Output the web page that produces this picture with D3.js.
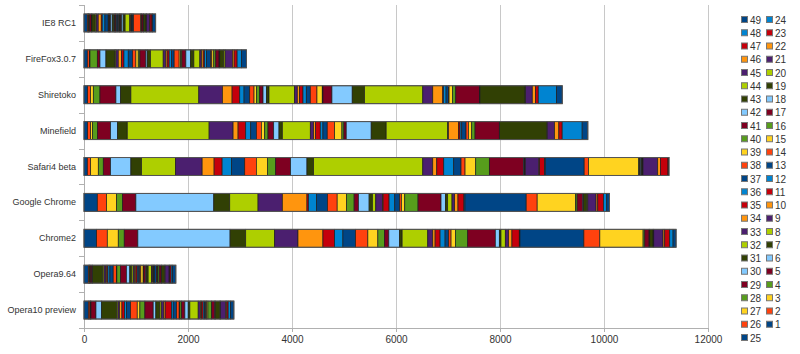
<!DOCTYPE html>
<html>
<head>
<meta charset="utf-8">
<script src="https://cdn.jsdelivr.net/npm/d3@7"></script>
<style>
html, body { margin: 0; padding: 0; background: #fff; }
svg { display: block; }
text { font-family: "Liberation Sans", Arial, sans-serif; }
</style>
</head>
<body>
<svg id="chart" width="800" height="354"></svg>
<script>
// ---- data ----
const categories = ["IE8 RC1", "FireFox3.0.7", "Shiretoko", "Minefield", "Safari4 beta",
  "Google Chrome", "Chrome2", "Opera9.64", "Opera10 preview"];

const seriesNames = d3.range(1, 50).map(String); // "1" .. "49"

const xTicks = [0, 2000, 4000, 6000, 8000, 10000, 12000];

// values of series 1..49 for each browser
const ie8 = [64,19,6,13,38,13,64,19,38,58,19,51,64,13,6,6,19,32,32,13,13,6,19,19,26,13,6,13,19,32,38,90,13,13,13,13,19,141,6,6,32,6,51,6,64,6,38,6,64];
const firefox = [64,38,13,141,51,115,173,19,45,64,45,83,83,64,45,32,115,26,64,243,51,26,38,45,51,96,26,26,77,90,64,115,32,32,26,38,83,19,38,38,64,13,77,26,141,32,58,83,96];
const shiretoko = [70,58,51,128,307,90,198,1306,454,186,147,83,109,83,45,64,64,64,51,493,51,45,64,64,77,128,102,13,173,390,237,1120,192,192,13,51,45,13,64,64,454,13,864,13,128,64,51,352,109];
const minefield = [70,58,38,96,250,134,186,1574,461,96,147,96,109,96,64,64,109,102,64,538,64,38,90,51,83,141,141,38,45,480,288,1184,13,192,32,32,83,45,64,64,467,6,909,6,141,83,64,384,109];
const safari4 = [64,64,147,96,141,390,205,653,512,230,154,179,256,224,211,160,288,314,128,2099,192,77,134,192,141,77,205,262,659,13,13,6,262,13,96,13,749,83,966,19,13,19,19,13,282,51,147,6,13];
const chrome = [256,179,192,115,256,1498,307,544,467,474,30,154,211,186,179,147,83,205,64,64,128,13,115,109,96,32,64,256,442,83,45,83,51,64,115,19,1178,211,736,32,109,13,64,19,160,32,109,64,51];
const chrome2 = [243,205,211,115,262,1773,301,557,448,480,224,160,243,237,192,128,83,205,51,493,96,45,96,96,70,45,83,237,531,77,32,83,64,64,141,13,1229,307,832,32,83,13,64,13,179,32,96,64,58];
const opera964 = [83,19,6,13,32,13,192,26,38,19,19,38,64,64,6,70,115,64,32,32,26,26,26,19,32,19,45,13,38,13,32,64,19,13,13,13,38,13,13,26,38,6,64,6,77,13,26,26,64];
const opera10 = [83,32,6,13,96,109,288,26,32,45,51,38,77,128,51,96,160,51,77,26,51,26,122,32,64,51,13,32,64,64,32,160,45,19,32,26,26,13,26,70,64,6,90,13,102,19,26,45,64];

const palette = ["#004586","#ff420e","#ffd320","#579d1c","#7e0021","#83caff",
                 "#314004","#aecf00","#4b1f6f","#ff950e","#c5000b","#0084d1"];

// ---- build table ----
const valuesByCategory = [ie8, firefox, shiretoko, minefield, safari4, chrome, chrome2, opera964, opera10];
const rows = categories.map((c, i) => {
  const o = { category: c };
  seriesNames.forEach((s, j) => { o[s] = valuesByCategory[i][j]; });
  return o;
});

const svg = d3.select("#chart");
const x = d3.scaleLinear().domain([0, 12000]).range([84, 708]);
const y = d3.scaleBand().domain(categories).range([5, 328]).paddingInner(0.5).paddingOuter(0.25);
const color = d3.scaleOrdinal().domain(seriesNames).range(seriesNames.map((s, i) => palette[i % 12]));

// grid lines
svg.append("g").selectAll("line").data(xTicks).join("line")
  .attr("x1", d => x(d)).attr("x2", d => x(d))
  .attr("y1", 5).attr("y2", 328)
  .attr("stroke", "#c8c8c8").attr("stroke-width", 1)
  .attr("shape-rendering", "crispEdges");

// x axis
const xAxis = svg.append("g").attr("transform", "translate(0,328)")
  .call(d3.axisBottom(x).tickValues(xTicks).tickFormat(d3.format("d")).tickSize(4).tickPadding(4));
xAxis.select(".domain").attr("stroke", "#b0b0b0");
xAxis.selectAll(".tick line").attr("stroke", "#b0b0b0");
xAxis.selectAll("text").attr("fill", "#333").style("font-size", "10px")
  .style("font-family", '"Liberation Sans", Arial, sans-serif');

// y axis line + ticks at band boundaries
const step = y.step();
const y0 = y.range()[0];
svg.append("line").attr("x1", 84).attr("x2", 84).attr("y1", 5).attr("y2", 328)
  .attr("stroke", "#b0b0b0").attr("shape-rendering", "crispEdges");
svg.append("g").selectAll("line").data(d3.range(0, categories.length + 1)).join("line")
  .attr("x1", 79).attr("x2", 84)
  .attr("y1", d => Math.round(y0 + d * step) + 0.5).attr("y2", d => Math.round(y0 + d * step) + 0.5)
  .attr("stroke", "#b0b0b0");

// category labels
svg.append("g").selectAll("text").data(categories).join("text")
  .attr("x", 76).attr("y", d => y(d) + y.bandwidth() / 2)
  .attr("text-anchor", "end").attr("dominant-baseline", "central")
  .attr("fill", "#333").style("font-size", "9px")
  .text(d => d);

// stacked bars
const stacked = d3.stack().keys(seriesNames)(rows);
svg.append("g").selectAll("g").data(stacked).join("g")
  .attr("fill", d => color(d.key))
  .selectAll("rect").data(d => d).join("rect")
  .attr("x", d => x(d[0]))
  .attr("width", d => Math.max(0, x(d[1]) - x(d[0])))
  .attr("y", d => y(d.data.category))
  .attr("height", y.bandwidth())
  .attr("stroke", "#1e1e1e").attr("stroke-width", 0.7);

// outer outline of each bar
svg.append("g").selectAll("rect").data(rows).join("rect")
  .attr("x", x(0))
  .attr("width", d => x(d3.sum(seriesNames, s => d[s])) - x(0))
  .attr("y", d => y(d.category))
  .attr("height", y.bandwidth())
  .attr("fill", "none").attr("stroke", "#555").attr("stroke-width", 1);

// legend: left column 49..25, right column 24..1
const legendOrder = seriesNames.slice().reverse();
const lg = svg.append("g").selectAll("g").data(legendOrder).join("g")
  .attr("transform", (d, i) => {
    const col = i < 25 ? 0 : 1;
    const row = i < 25 ? i : i - 25;
    return `translate(${741 + col * 25},${20 + row * 13.25})`;
  });
lg.append("rect").attr("x", 0.5).attr("y", -3.5).attr("width", 6).attr("height", 6)
  .attr("fill", d => color(d)).attr("stroke", "#777").attr("stroke-width", 1);
lg.append("text").attr("x", 9).attr("y", 0).attr("dominant-baseline", "central")
  .attr("fill", "#333").style("font-size", "10px").text(d => d);
</script>
</body>
</html>
